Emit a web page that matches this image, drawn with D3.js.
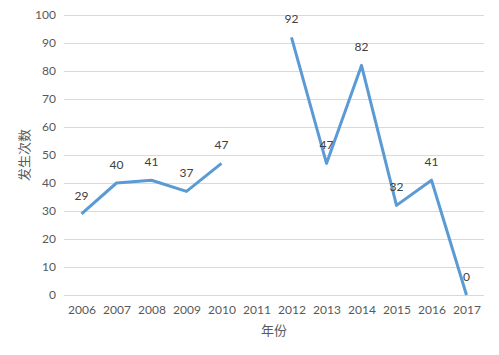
<!DOCTYPE html>
<html><head><meta charset="utf-8">
<script src="https://cdn.jsdelivr.net/npm/d3@7"></script>
<style>body{margin:0;background:#fff}svg{display:block}</style>
</head><body>
<svg id="c" width="499" height="355"></svg>
<script>
const years = ["2006","2007","2008","2009","2010","2011","2012","2013","2014","2015","2016","2017"];
const counts = [29, 40, 41, 37, 47, null, 92, 47, 82, 32, 41, 0];
const yTicks = [0,10,20,30,40,50,60,70,80,90,100];
const xTitle = "年份";
const yTitle = "发生次数";

const svg = d3.select("#c");
const font = "Lato, 'Noto Sans CJK SC', sans-serif";
const x = d3.scalePoint().domain(years).range([64, 484]).padding(0.5);
const y = d3.scaleLinear().domain([0, 100]).range([295, 15]);

// gridlines
svg.append("g").selectAll("line").data(yTicks).join("line")
  .attr("x1", 64).attr("x2", 484)
  .attr("y1", d => y(d)).attr("y2", d => y(d))
  .attr("stroke", "#d9d9d9").attr("stroke-width", 1).attr("shape-rendering","crispEdges");

// y axis labels
const ya = svg.append("g").attr("transform","translate(64,0)")
  .call(d3.axisLeft(y).tickValues(yTicks).tickSize(0).tickPadding(8));
ya.select(".domain").remove();
ya.selectAll("text").attr("fill","#595959").style("font-family",font).style("font-size","12px");

// x axis labels
const xa = svg.append("g").attr("transform","translate(0,295)")
  .call(d3.axisBottom(x).tickSize(0).tickPadding(10));
xa.select(".domain").remove();
xa.selectAll("text").attr("fill","#595959").style("font-family",font).style("font-size","12px");

// line
const line = d3.line().defined(d => d.v !== null).x(d => x(d.k)).y(d => y(d.v));
const data = years.map((k,i) => ({k, v: counts[i]}));
svg.append("path").datum(data).attr("d", line)
  .attr("fill","none").attr("stroke","#5b9bd5").attr("stroke-width",3)
  .attr("stroke-linejoin","round");

// data labels
svg.append("g").selectAll("text").data(data.filter(d => d.v !== null)).join("text")
  .attr("x", d => x(d.k)).attr("y", d => y(d.v) - 14)
  .attr("text-anchor","middle").attr("fill","#404040")
  .style("font-family",font).style("font-size","12px")
  .text(d => d.v);

// axis titles
svg.append("text").attr("x", 274).attr("y", 335).attr("text-anchor","middle")
  .attr("fill","#595959").style("font-family","'Noto Sans CJK SC', sans-serif").style("font-size","13px")
  .text(xTitle);
svg.append("text").attr("transform","translate(29,155) rotate(-90)").attr("text-anchor","middle")
  .attr("fill","#595959").style("font-family","'Noto Sans CJK SC', sans-serif").style("font-size","13px")
  .text(yTitle);
</script>
</body></html>
